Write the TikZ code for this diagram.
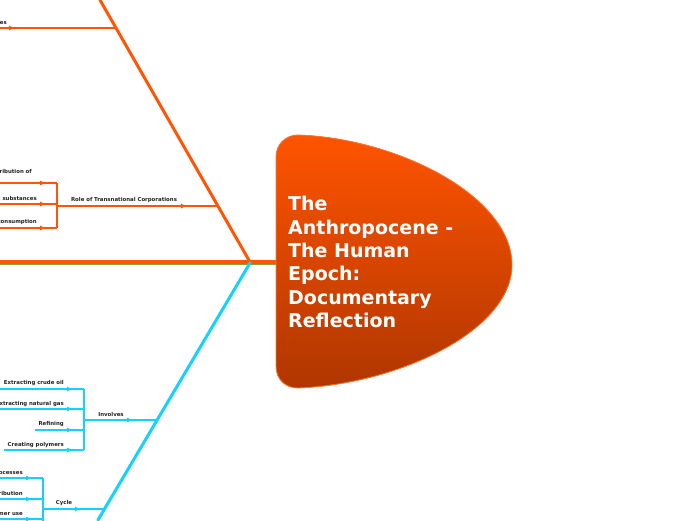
\documentclass[tikz,border=0pt]{standalone}
\usepackage{fontspec}
\newfontfamily\dv{DejaVu Sans}
\usetikzlibrary{arrows.meta,decorations.markings}
\definecolor{orn}{RGB}{255,85,5}
\definecolor{blu}{RGB}{20,210,255}
\definecolor{txt}{RGB}{34,34,34}
\definecolor{topc}{RGB}{255,84,0}
\definecolor{botc}{RGB}{176,54,0}
\definecolor{rimc}{RGB}{255,120,50}
\definecolor{spineg}{RGB}{140,160,60}
\tikzset{
  lbl/.style={font=\dv\bfseries\fontsize{5.4}{6.2}\selectfont, text=txt, inner sep=0pt},
  bigbranch/.style={line width=3pt, line cap=round},
  sub/.style={line width=1.4pt},
  child/.style={line width=1.2pt},
  tipat/.style={postaction={decorate}, decoration={markings, mark=at position #1 with {\arrow{Triangle[length=5pt,width=4.5pt]}}}}
}
\begin{document}
\begin{tikzpicture}[x=1pt,y=-1pt]
\useasboundingbox (0,0) rectangle (696,520);
% spine
\coordinate (s0) at (0,262);
\coordinate (hub) at (250,262);
\coordinate (c0) at (276,262);
\draw[spineg, line width=1pt] (0,264.5) -- (276,264.5);
\draw[orn, line width=3.5pt] (s0) -- (c0);
% big branches
\coordinate (ot) at (100,0);
\coordinate (bb) at (98,520);
\draw[orn, bigbranch] (hub) -- (ot);
\draw[blu, bigbranch] (250,263) -- (bb);
% central shape
\fill[top color=topc, bottom color=botc] (298,135) .. controls (395,138) and (512,195) .. (512,265)
  .. controls (512,330) and (400,384) .. (298,388)
  .. controls (286,388) and (276,380) .. (276,366) -- (276,157)
  .. controls (276,144) and (286,135) .. (298,135) -- cycle;
\draw[rimc, line width=0.8pt] (298,135) .. controls (395,138) and (512,195) .. (512,265)
  .. controls (512,330) and (400,384) .. (298,388)
  .. controls (286,388) and (276,380) .. (276,366) -- (276,157)
  .. controls (276,144) and (286,135) .. (298,135) -- cycle;
\node[anchor=north west, inner sep=0pt, align=left, text=white,
  font=\dv\bfseries\fontsize{19}{23.4}\selectfont] (title) at (288,196)
  {The\\Anthropocene -\\The Human\\Epoch:\\Documentary\\Reflection};

% orange top sub-branch
\coordinate (p0) at (0,28);
\coordinate (p1) at (116,28);
\draw[orn, sub, tipat=14pt] (p0) -- (p1);
\node[lbl, anchor=east] (lp) at (7,22.5) {Processes};

% TNC group
\coordinate (t0) at (57,206);
\coordinate (t1) at (218,206);
\draw[orn, sub, tipat=-32pt] (t0) -- (t1);
\node[lbl] (ltnc) at (124,200) {Role of Transnational Corporations};
\coordinate (ta0) at (0,183);   \coordinate (ta1) at (57,183);
\coordinate (tb0) at (0,204);   \coordinate (tb1) at (57,204);
\coordinate (tc0) at (0,228);   \coordinate (tc1) at (57,228);
\draw[orn, child, tipat=-12pt] (ta0) -- (ta1);
\draw[orn, child, tipat=-12pt] (tb0) -- (tb1);
\draw[orn, child, tipat=-12pt] (tc0) -- (tc1);
\draw[orn, child] (ta1) -- (tc1);
\node[lbl, anchor=east] (la) at (32,171) {Distribution of};
\node[lbl, anchor=east] (lb) at (37,198) {Toxic substances};
\node[lbl, anchor=east] (lc) at (37,222) {Mass consumption};

% Involves group
\coordinate (i0) at (84,420);
\coordinate (i1) at (157,420);
\draw[blu, sub, tipat=-25pt] (i0) -- (i1);
\node[lbl] (linv) at (111,414) {Involves};
\coordinate (ia0) at (0,389);  \coordinate (ia1) at (84,389);
\coordinate (ib0) at (0,409);  \coordinate (ib1) at (84,409);
\coordinate (ic0) at (35,430); \coordinate (ic1) at (84,430);
\coordinate (id0) at (4,450);  \coordinate (id1) at (84,450);
\draw[blu, child, tipat=-12pt] (ia0) -- (ia1);
\draw[blu, child, tipat=-12pt] (ib0) -- (ib1);
\draw[blu, child, tipat=-12pt] (ic0) -- (ic1);
\draw[blu, child, tipat=-12pt] (id0) -- (id1);
\draw[blu, child] (ia1) -- (id1);
\node[lbl, anchor=east] (lia) at (64,383) {Extracting crude oil};
\node[lbl, anchor=east] (lib) at (64,404) {Extracting natural gas};
\node[lbl, anchor=east] (lic) at (64,424) {Refining};
\node[lbl, anchor=east] (lid) at (64,445) {Creating polymers};

% Cycle group
\coordinate (y0) at (43,509);
\coordinate (y1) at (105,509);
\draw[blu, sub, tipat=-25pt] (y0) -- (y1);
\node[lbl] (lcy) at (64,503) {Cycle};
\coordinate (ya0) at (0,478);  \coordinate (ya1) at (43,478);
\coordinate (yb0) at (0,499);  \coordinate (yb1) at (43,499);
\coordinate (yc0) at (0,519);  \coordinate (yc1) at (43,519);
\coordinate (yd1) at (43,530);
\draw[blu, child, tipat=-12pt] (ya0) -- (ya1);
\draw[blu, child, tipat=-12pt] (yb0) -- (yb1);
\draw[blu, child, tipat=-12pt] (yc0) -- (yc1);
\draw[blu, child] (ya1) -- (yd1);
\node[lbl, anchor=east] (lya) at (23,473) {Production processes};
\node[lbl, anchor=east] (lyb) at (23,493) {Distribution};
\node[lbl, anchor=east] (lyc) at (23,514) {Consumer use};
\end{tikzpicture}
\end{document}
